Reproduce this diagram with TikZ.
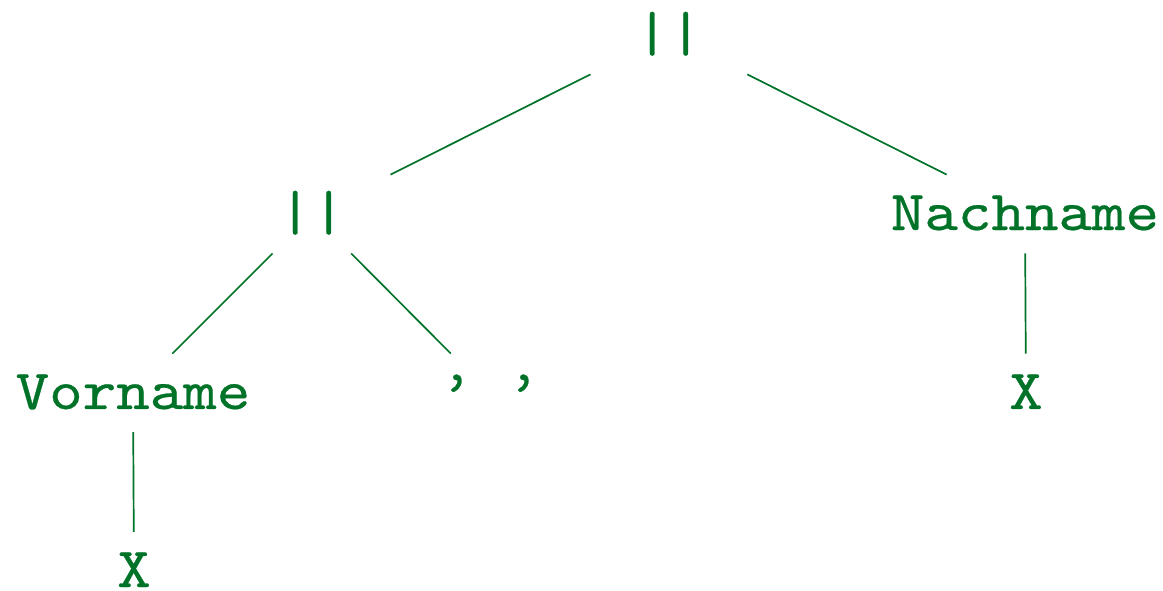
\documentclass[tikz,border=0pt]{standalone}
\usepackage{fontspec}
\setmonofont{Latin Modern Mono}[FakeStretch=1.13, FakeBold=0.5]
\usetikzlibrary{calc}
\definecolor{treegreen}{RGB}{0,115,40}
\tikzset{
  lbl/.style={text=treegreen, inner sep=0pt, text height=5.66pt, text depth=0pt, font=\ttfamily},
  branch/.style={draw=treegreen, line width=0.3pt}
}
\begin{document}
\begin{tikzpicture}[x=0.17699pt, y=-0.17699pt]
\useasboundingbox (0,0) rectangle (1163,591);
\node[lbl] (root) at (669,35) {||};
\node[lbl] (l) at (312,214) {||};
\node[lbl] (n) at (1025,214) {Nachname};
\node[lbl] (v) at (133,393) {Vorname};
\node[lbl] (q) at (490,393) {\textquoteright{} \textquoteright};
\node[lbl] (x1) at (134,571) {X};
\node[lbl] (x2) at (1026,393) {X};
\foreach \a/\b in {root/l, root/n, l/v, l/q, v/x1, n/x2}
  \draw[branch] ($(\a)!0.22!(\b)$) -- ($(\a)!0.78!(\b)$);
\end{tikzpicture}
\end{document}
